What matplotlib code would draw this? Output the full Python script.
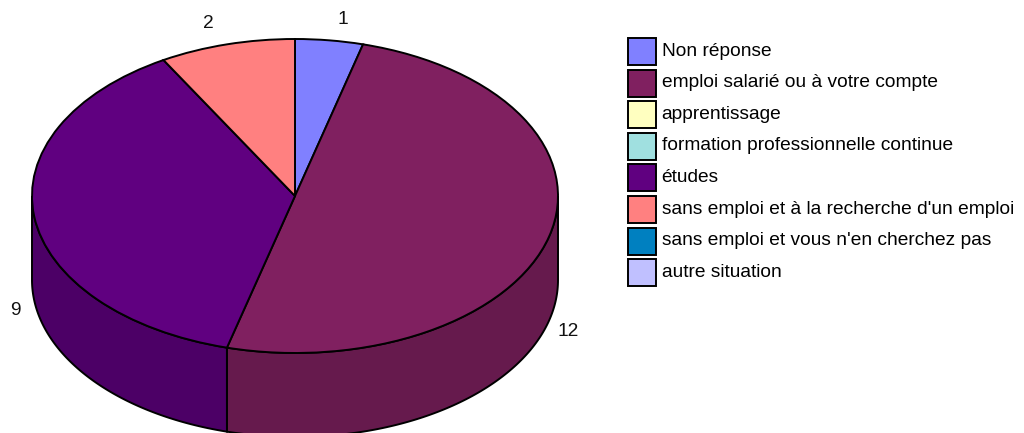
"""Flat-shaded 3D pie of the respondents' situation, with a square-swatch legend"""

import matplotlib
matplotlib.use("Agg")
import matplotlib.pyplot as plt
from matplotlib.patches import Patch, Polygon
import numpy as np

plt.rcParams["font.family"] = ["Liberation Sans", "DejaVu Sans"]

categories = [
    "Non réponse",
    "emploi salarié ou à votre compte",
    "apprentissage",
    "formation professionnelle continue",
    "études",
    "sans emploi et à la recherche d'un emploi",
    "sans emploi et vous n'en cherchez pas",
    "autre situation",
]
values = [1, 12, 0, 0, 9, 2, 0, 0]
colors = ["#8080ff", "#802060", "#ffffc0", "#a0e0e0",
          "#600080", "#ff8080", "#0080c0", "#c0c0ff"]
side_colors = ["#6666cc", "#661a4d", "#cccc99", "#80b3b3",
               "#4c0066", "#cc6666", "#006699", "#9999cc"]

WIDTH, HEIGHT = 1024, 433
CX, CY, RX, RY, DEPTH = 295.0, 196.0, 263.0, 157.0, 84.0
LW = 1.4
FONT = 13.8


def px(x, y):
    """Pixel position in the reference to pie units"""
    return (x - CX) / RX, (CY - y) / RY


fig = plt.figure(figsize=(WIDTH / 100, HEIGHT / 100), dpi=100)
ax = fig.add_axes([0, 0, 1, 1])

shown = [i for i, v in enumerate(values) if v > 0]
ax.pie(
    [values[i] for i in shown],
    colors=[colors[i] for i in shown],
    startangle=90,
    counterclock=False,
    radius=1,
    wedgeprops={"edgecolor": "black", "linewidth": LW, "zorder": 3},
)
ax.set_aspect("auto")
ax.set_xlim(px(0, 0)[0], px(WIDTH, 0)[0])
ax.set_ylim(px(0, HEIGHT)[1], px(0, 0)[1])

# side walls: only the front half of the rim shows
depth = DEPTH / RY
start = 0.0
total = sum(values)
for i in shown:
    end = start + 360.0 * values[i] / total
    lo, hi = max(start, 90.0), min(end, 270.0)
    if lo < hi:
        ang = np.radians(np.linspace(lo, hi, 120))
        rim_x, rim_y = np.sin(ang), np.cos(ang)
        xy = np.column_stack([
            np.r_[rim_x, rim_x[::-1]],
            np.r_[rim_y, rim_y[::-1] - depth],
        ])
        ax.add_patch(Polygon(xy, closed=True, facecolor=side_colors[i],
                             edgecolor="black", linewidth=LW, zorder=2))
    start = end

label_pos = {0: (343, 19), 1: (568, 332), 4: (15, 311), 5: (208, 24)}
for i, pos in label_pos.items():
    ax.text(*px(*pos), str(values[i]), fontsize=FONT, color="#111111",
            ha="center", va="center")

handles = [Patch(facecolor=c, edgecolor="black", linewidth=LW) for c in colors]
leg = fig.legend(
    handles,
    categories,
    loc="upper left",
    bbox_to_anchor=(628 / WIDTH, 1 - 38 / HEIGHT),
    frameon=False,
    fontsize=FONT,
    handlelength=1.45,
    handleheight=1.79,
    handletextpad=0.3,
    labelspacing=0.24,
    borderpad=0,
    borderaxespad=0,
)
for item in leg.get_texts():
    item.set_y(2)

fig.savefig("out.png", dpi=100)
